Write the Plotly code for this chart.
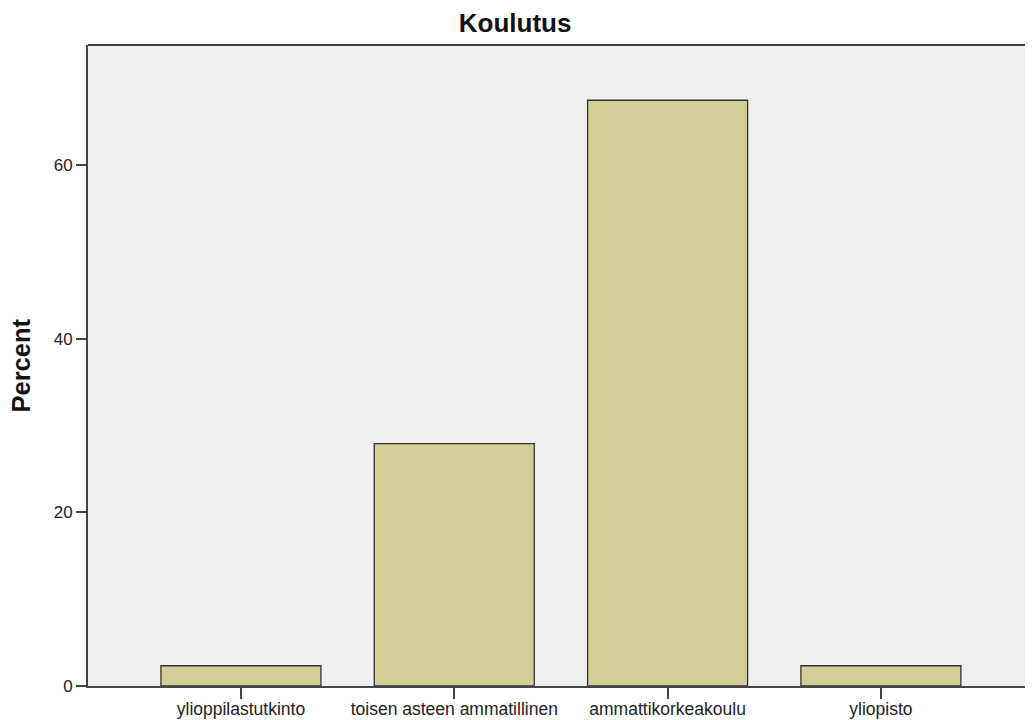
import plotly.graph_objects as go

categories = ["ylioppilastutkinto", "toisen asteen ammatillinen", "ammattikorkeakoulu", "yliopisto"]
percents = [2.33, 27.91, 67.44, 2.33]
y_ticks = [0, 20, 40, 60]

fig = go.Figure()
fig.add_trace(go.Bar(
    x=list(range(len(categories))),
    y=percents,
    width=0.75,
    marker=dict(color="#D3CE97", line=dict(color="#333333", width=1.3)),
))

fig.update_layout(
    width=1025, height=712,
    margin=dict(l=80, r=0, t=37, b=34, autoexpand=False),
    paper_bgcolor="white",
    plot_bgcolor="#EFEFEF",
    showlegend=False,
    font=dict(family="Liberation Sans, Arial, sans-serif", size=17, color="#222222"),
    title=dict(text="<b>Koulutus</b>", x=0.4947, xanchor="center", y=0.9785, yanchor="middle",
               font=dict(size=26, color="#111111")),
)
fig.update_xaxes(
    range=[-0.717, 3.713],
    tickmode="array", tickvals=list(range(len(categories))), ticktext=categories,
    ticks="outside", ticklen=11, tickwidth=2, tickcolor="#444444",
    showline=True, linecolor="#444444", linewidth=2, mirror=False,
    showgrid=False, zeroline=False, automargin=False,
    ticklabelstandoff=-5,
    tickfont=dict(size=17.5, color="#222222"),
)
fig.update_yaxes(
    range=[0, 73.8],
    tickmode="array", tickvals=y_ticks,
    ticks="outside", ticklen=10, tickwidth=2, tickcolor="#444444",
    showline=True, linecolor="#444444", linewidth=2,
    showgrid=False, zeroline=False, automargin=False,
    tickfont=dict(size=17, color="#222222"),
)
# y-axis title
fig.add_annotation(text="<b>Percent</b>", xref="paper", yref="paper",
                   x=-0.0709, y=0.5, xanchor="center", yanchor="middle",
                   textangle=-90, showarrow=False,
                   font=dict(size=25.5, color="#111111"))
# top border line
fig.add_shape(type="line", xref="paper", yref="paper", x0=0, x1=1, y0=1, y1=1,
              line=dict(color="#444444", width=2))

fig.write_html("out.html")
